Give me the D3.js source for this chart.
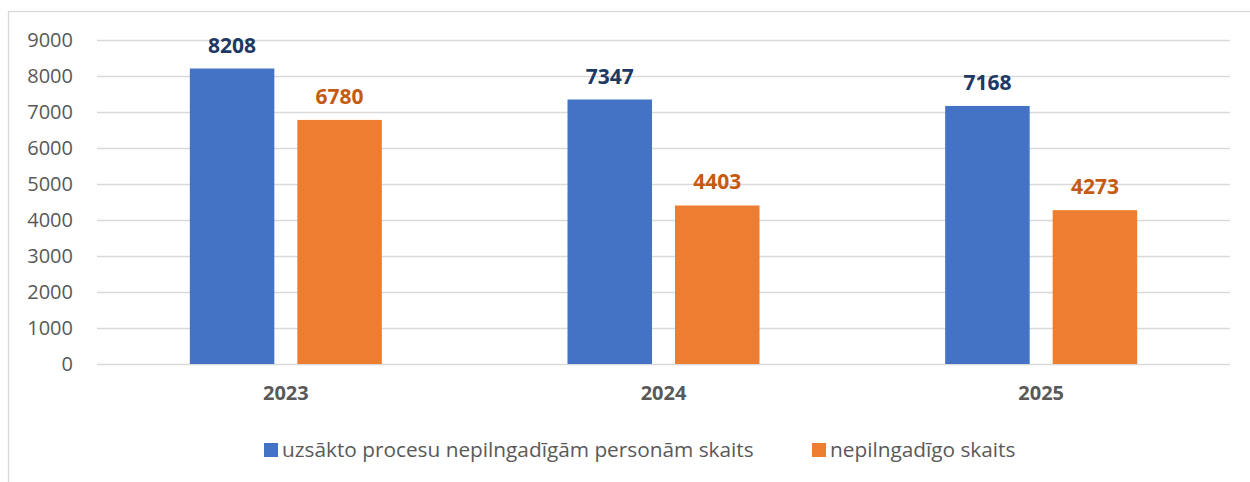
<!DOCTYPE html>
<html>
<head>
<meta charset="utf-8">
<script src="https://cdn.jsdelivr.net/npm/d3@7"></script>
<style>
  body { margin: 0; background: #fff; }
  text { font-family: "Open Sans", sans-serif; }
</style>
</head>
<body>
<div id="chart"></div>
<script>
const years = ["2023", "2024", "2025"];
const seriesNames = ["uzsākto procesu nepilngadīgām personām skaits", "nepilngadīgo skaits"];
const processes = [8208, 7347, 7168];
const minors = [6780, 4403, 4273];
const yTicks = [0, 1000, 2000, 3000, 4000, 5000, 6000, 7000, 8000, 9000];

const barColors = ["#4472c4", "#ed7d31"];
const labelColors = ["#203864", "#c55a11"];

function Config() {
    this.width = 1250;
    this.height = 482;
    this.marginLeft = 97;
    this.marginRight = 20;
    this.plotTop = 40;
    this.plotBottom = 364;
    this.x = d3.scaleBand()
        .domain(years)
        .range([this.marginLeft, this.width - this.marginRight]);
    this.y = d3.scaleLinear()
        .domain([0, 9000])
        .range([this.plotBottom, this.plotTop]);
    this.barWidth = 84.5;
    this.barGap = 23;
}

function plotData(cfg) {
    const svg = d3.select("#chart").append("svg")
        .attr("width", cfg.width)
        .attr("height", cfg.height);

    // chart area border (only top and left visible in frame)
    svg.append("rect")
        .attr("x", 8.5).attr("y", 11.5)
        .attr("width", cfg.width + 20).attr("height", cfg.height + 20)
        .attr("fill", "none")
        .attr("stroke", "#d9d9d9")
        .attr("stroke-width", 1.3);

    // gridlines + y labels
    const yAxis = svg.append("g")
        .attr("transform", `translate(${cfg.marginLeft},0)`)
        .call(d3.axisLeft(cfg.y)
            .tickValues(yTicks)
            .tickSize(-(cfg.width - cfg.marginRight - cfg.marginLeft))
            .tickPadding(24)
            .tickFormat(d3.format("d")));
    yAxis.select(".domain").remove();
    yAxis.selectAll(".tick line")
        .attr("stroke", "#d9d9d9")
        .attr("stroke-width", 1.5);
    yAxis.selectAll(".tick text")
        .attr("fill", "#595959")
        .style("font-size", "20px");

    // x labels
    const xAxis = svg.append("g")
        .attr("transform", `translate(0,${cfg.plotBottom})`)
        .call(d3.axisBottom(cfg.x).tickSize(0).tickPadding(22));
    xAxis.select(".domain").remove();
    xAxis.selectAll(".tick text")
        .attr("fill", "#595959")
        .style("font-size", "20px")
        .style("font-weight", "bold");

    const series = [processes, minors];
    const offsets = [-(cfg.barGap / 2 + cfg.barWidth), cfg.barGap / 2];

    series.forEach((vals, si) => {
        const g = svg.append("g");
        g.selectAll("rect")
            .data(vals)
            .join("rect")
            .attr("x", (d, i) => cfg.x(years[i]) + cfg.x.bandwidth() / 2 + offsets[si])
            .attr("y", d => cfg.y(d))
            .attr("width", cfg.barWidth)
            .attr("height", d => cfg.y(0) - cfg.y(d))
            .attr("fill", barColors[si]);

        g.selectAll("text")
            .data(vals)
            .join("text")
            .attr("x", (d, i) => cfg.x(years[i]) + cfg.x.bandwidth() / 2 + offsets[si] + cfg.barWidth / 2)
            .attr("y", d => cfg.y(d) - 16)
            .attr("text-anchor", "middle")
            .attr("fill", labelColors[si])
            .style("font-size", "21px")
            .style("font-weight", "bold")
            .text(d => d);
    });

    // legend
    const legendX = [264, 812];
    const legend = svg.append("g");
    seriesNames.forEach((name, i) => {
        legend.append("rect")
            .attr("x", legendX[i]).attr("y", 443)
            .attr("width", 14).attr("height", 14)
            .attr("fill", barColors[i]);
        legend.append("text")
            .attr("x", legendX[i] + 18).attr("y", 457)
            .attr("fill", "#595959")
            .style("font-size", "20.8px")
            .text(name);
    });
}

document.addEventListener("DOMContentLoaded", () => {
    const cfg = new Config();
    plotData(cfg);
});
</script>
</body>
</html>
